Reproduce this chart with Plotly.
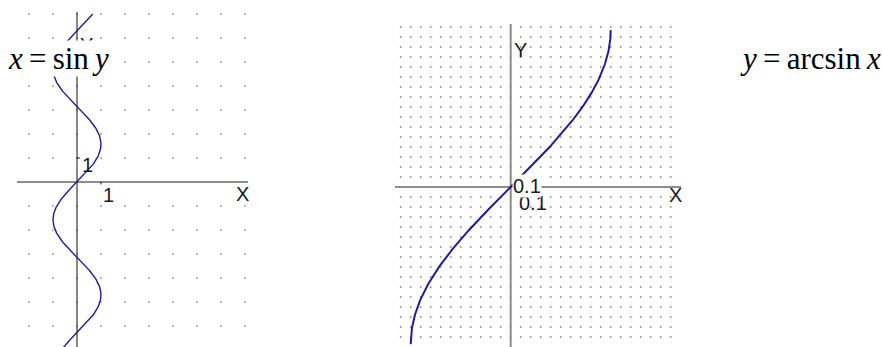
import numpy as np
import plotly.graph_objects as go

# ---- data ----------------------------------------------------------------
# left panel: x = sin y, parameter y over its drawn span
sin_y_span = [-7.0, 7.0]
# right panel: y = arcsin x over its domain
arcsin_x_span = [-1.0, 1.0]

# dotted grid lattices (unit steps on the left, 0.1 steps on the right)
left_grid_x = list(range(-2, 8))
left_grid_y = list(range(-6, 8))
right_grid_x = [round(-1.1 + 0.1 * i, 2) for i in range(28)]
right_grid_y = [round(-1.5 + 0.1 * i, 2) for i in range(32)]

# tick labels
left_tick_labels = ["1", "1"]
right_tick_labels = ["0.1", "0.1"]

CURVE = "#1d1d96"
DOT = "#8a8a8a"
AXIS_GRAY = "#8c8c8c"

W, H = 882, 347

fig = go.Figure()

# ---- left panel --------------------------------------------------------
gx, gy = np.meshgrid(left_grid_x, left_grid_y)
fig.add_trace(go.Scatter(x=gx.ravel(), y=gy.ravel(), mode="markers",
                         marker=dict(size=1.6, color=DOT, symbol="square"),
                         xaxis="x", yaxis="y", hoverinfo="skip"))
# axes
fig.add_trace(go.Scatter(x=[-2.5, 7.125], y=[0, 0], mode="lines",
                         line=dict(color=AXIS_GRAY, width=2),
                         xaxis="x", yaxis="y", hoverinfo="skip"))
fig.add_trace(go.Scatter(x=[0, 0], y=[7.08, -7.2], mode="lines",
                         line=dict(color="#111111", width=1),
                         xaxis="x", yaxis="y", hoverinfo="skip"))
# unit ticks
fig.add_trace(go.Scatter(x=[0, 0.12, None, 1, 1], y=[1, 1, None, 0, -0.1],
                         mode="lines", line=dict(color="#111111", width=1),
                         xaxis="x", yaxis="y", hoverinfo="skip"))
ys = np.linspace(sin_y_span[0], sin_y_span[1], 800)
fig.add_trace(go.Scatter(x=np.sin(ys), y=ys, mode="lines",
                         line=dict(color=CURVE, width=1.4),
                         xaxis="x", yaxis="y", hoverinfo="skip"))

# ---- right panel -------------------------------------------------------
hx, hy = np.meshgrid(right_grid_x, right_grid_y)
fig.add_trace(go.Scatter(x=hx.ravel(), y=hy.ravel(), mode="markers",
                         marker=dict(size=1.6, color=DOT, symbol="square"),
                         xaxis="x2", yaxis="y2", hoverinfo="skip"))
fig.add_trace(go.Scatter(x=[-1.157, 1.703], y=[0, 0], mode="lines",
                         line=dict(color=AXIS_GRAY, width=2),
                         xaxis="x2", yaxis="y2", hoverinfo="skip"))
fig.add_trace(go.Scatter(x=[0, 0], y=[1.63, -1.7], mode="lines",
                         line=dict(color=AXIS_GRAY, width=2),
                         xaxis="x2", yaxis="y2", hoverinfo="skip"))
xs = np.linspace(arcsin_x_span[0], arcsin_x_span[1], 1200)
fig.add_trace(go.Scatter(x=xs, y=np.arcsin(xs), mode="lines",
                         line=dict(color=CURVE, width=2),
                         xaxis="x2", yaxis="y2", hoverinfo="skip"))

# ---- axes layout (pixel-true scales: 24 px/unit left, 100 px/unit right)
left_dom = [0, 260 / W]
right_dom = [390 / W, 690 / W]
ax_common = dict(visible=False, fixedrange=True)
fig.update_layout(
    width=W, height=H, autosize=False,
    margin=dict(l=0, r=0, t=0, b=0),
    paper_bgcolor="white", plot_bgcolor="white",
    showlegend=False,
    xaxis=dict(domain=left_dom, range=[-77 / 24, (260 - 77) / 24], **ax_common),
    yaxis=dict(domain=[0, 1], range=[(182 - 347) / 24, 182 / 24], **ax_common),
    xaxis2=dict(domain=right_dom, range=[-1.207, 1.793], anchor="y2", **ax_common),
    yaxis2=dict(domain=[0, 1], range=[-1.6, 1.87], anchor="x2", **ax_common),
)

sans = dict(family="Liberation Sans, Arial, sans-serif", size=20, color="#1a1a1a")
serif = dict(family="Liberation Serif, Times New Roman, serif", size=31, color="#000000")
TS = "&#8201;"  # thin space used around the equals sign

ann = []
# left labels
ann.append(dict(x=0.375, y=5.71, xref="x", yref="y", text="Y", showarrow=False, font=sans))
ann.append(dict(x=6.875, y=-0.5, xref="x", yref="y", text="X", showarrow=False, font=sans))
ann.append(dict(x=1.3, y=-0.54, xref="x", yref="y", text=left_tick_labels[0], showarrow=False, font=sans))
ann.append(dict(x=0.42, y=0.71, xref="x", yref="y", text=left_tick_labels[1], showarrow=False, font=sans))
ann.append(dict(x=-0.79, y=5.13, xref="x", yref="y", xanchor="center", yanchor="middle",
                text=f"<i>x</i>{TS}={TS}sin{TS}<i>y</i>", showarrow=False, font=serif,
                bgcolor="white", borderpad=0))
# right labels
ann.append(dict(x=0.093, y=1.37, xref="x2", yref="y2", text="Y", showarrow=False, font=sans))
ann.append(dict(x=1.643, y=-0.08, xref="x2", yref="y2", text="X", showarrow=False, font=sans))
ann.append(dict(x=0.223, y=-0.16, xref="x2", yref="y2", text=right_tick_labels[1], showarrow=False, font=sans))
ann.append(dict(x=0.163, y=0.01, xref="x2", yref="y2", text=right_tick_labels[0], showarrow=False,
                font=sans, bgcolor="white", borderpad=0))
ann.append(dict(x=810 / W, y=1 - 59 / H, xref="paper", yref="paper",
                xanchor="center", yanchor="middle",
                text=f"<i>y</i>{TS}={TS}arcsin{TS}<i>x</i>", showarrow=False, font=serif))
fig.update_layout(annotations=ann)

fig.write_html("out.html")
